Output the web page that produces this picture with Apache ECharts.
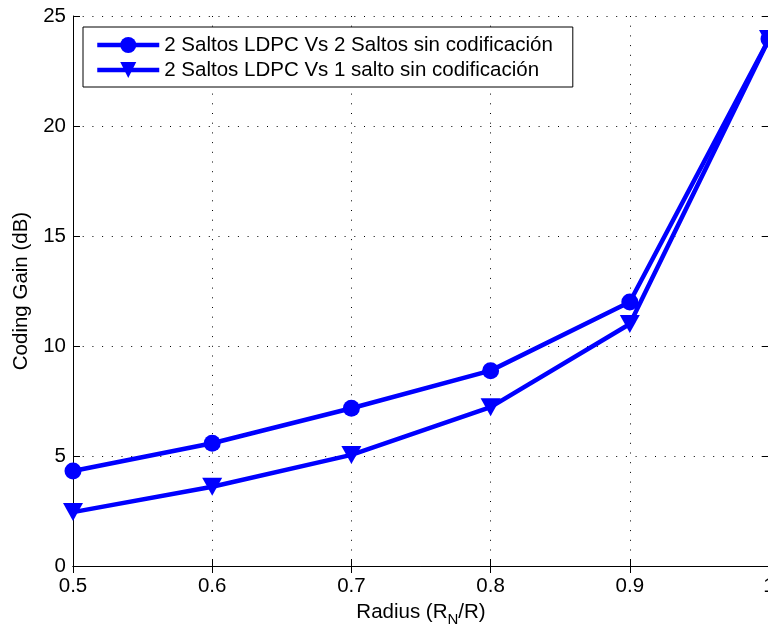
<!DOCTYPE html>
<html>
<head>
<meta charset="utf-8">
<script src="https://cdn.jsdelivr.net/npm/echarts@6/dist/echarts.min.js"></script>
<style>html,body{margin:0;padding:0;background:#fff;}#c{width:768px;height:625px;}</style>
</head>
<body>
<div id="c"></div>
<script>
var radius = [0.5, 0.6, 0.7, 0.8, 0.9, 1.0];
var gain2hop = [4.32, 5.58, 7.17, 8.88, 12.0, 23.95];
var gain1hop = [2.45, 3.6, 5.05, 7.22, 11.0, 23.95];
var seriesNames = ['2 Saltos LDPC Vs 2 Saltos sin codificación', '2 Saltos LDPC Vs 1 salto sin codificación'];

function pairs(xs, ys) { return xs.map(function (x, i) { return [x, ys[i]]; }); }

var font = 'Liberation Sans, Arial, sans-serif';
var fs = 20.5;
var dots = [1, 8.7];
var chart = echarts.init(document.getElementById('c'));
chart.setOption({
  animation: false,
  backgroundColor: '#fff',
  grid: { left: 73, right: -1, top: 16, bottom: 59, containLabel: false, outerBoundsMode: 'none' },
  legend: {
    orient: 'vertical', left: 83, top: 27,
    padding: [7, 20, 6, 12],
    itemGap: 3, itemWidth: 62, itemHeight: 20,
    borderColor: '#000', borderWidth: 1, backgroundColor: '#fff',
    lineStyle: { width: 4.5 },
    textStyle: { fontFamily: font, fontSize: fs, color: '#000', lineHeight: 22 },
    data: seriesNames
  },
  xAxis: [{
    type: 'value', min: 0.5, max: 1, interval: 0.1,
    axisLine: { lineStyle: { color: '#000', width: 1 } },
    axisTick: { inside: true, length: 7, lineStyle: { color: '#000' } },
    axisLabel: { fontFamily: font, fontSize: fs, color: '#000', margin: 10 },
    splitLine: { show: true, lineStyle: { color: '#000', type: dots, width: 1 } },
    name: '{a|Radius (R}{s|N}{a|/R)}', nameLocation: 'middle', nameGap: 31,
    nameTextStyle: { rich: { a: { fontFamily: font, fontSize: fs, color: '#000' }, s: { fontFamily: font, fontSize: 15, color: '#000', verticalAlign: 'bottom', padding: [14, 0, 0, 0] } } }
  }, {
    type: 'value', position: 'top', min: 0.5, max: 1, interval: 0.1,
    axisLine: { show: true, lineStyle: { color: '#000', width: 1 } },
    axisTick: { show: true, inside: true, length: 7, lineStyle: { color: '#000' } },
    axisLabel: { show: false }, splitLine: { show: false }
  }],
  yAxis: [{
    type: 'value', min: 0, max: 25, interval: 5,
    axisLine: { show: true, lineStyle: { color: '#000', width: 1 } },
    axisTick: { show: true, inside: true, length: 7, lineStyle: { color: '#000' } },
    axisLabel: { fontFamily: font, fontSize: fs, color: '#000', margin: 7 },
    splitLine: { show: true, lineStyle: { color: '#000', type: dots, width: 1 } },
    name: 'Coding Gain (dB)', nameLocation: 'middle', nameGap: 38,
    nameTextStyle: { fontFamily: font, fontSize: fs, color: '#000' }
  }, {
    type: 'value', position: 'right', min: 0, max: 25, interval: 5,
    axisLine: { show: true, lineStyle: { color: '#000', width: 1 } },
    axisTick: { show: true, inside: true, length: 7, lineStyle: { color: '#000' } },
    axisLabel: { show: false }, splitLine: { show: false }
  }],
  series: [{
    name: seriesNames[0], type: 'line', data: pairs(radius, gain2hop),
    symbol: 'circle', symbolSize: 17,
    lineStyle: { color: '#0000ff', width: 4.5 },
    itemStyle: { color: '#0000ff' }, color: '#0000ff'
  }, {
    name: seriesNames[1], type: 'line', data: pairs(radius, gain1hop),
    symbol: 'triangle', symbolRotate: 180, symbolSize: [20, 18],
    lineStyle: { color: '#0000ff', width: 4.5 },
    itemStyle: { color: '#0000ff' }, color: '#0000ff'
  }]
});
</script>
</body>
</html>
